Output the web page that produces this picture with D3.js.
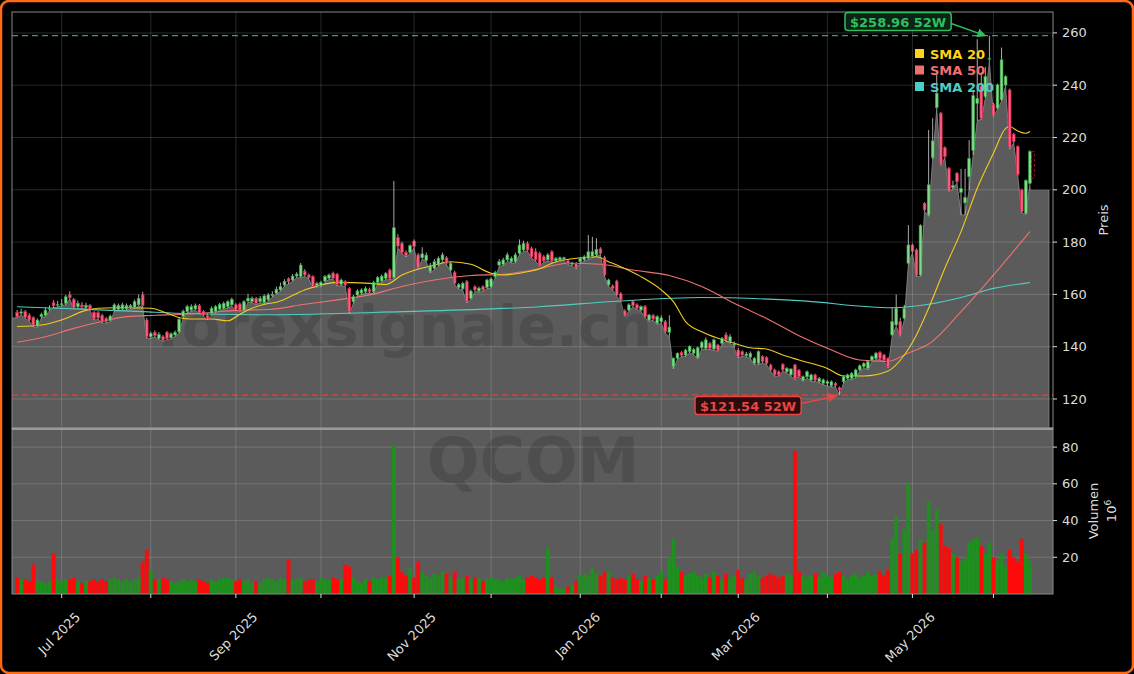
<!DOCTYPE html>
<html><head><meta charset="utf-8">
<script src="https://cdn.jsdelivr.net/npm/d3@7"></script>
<style>html,body{margin:0;padding:0;background:#000;}svg{display:block;font-family:"DejaVu Sans",sans-serif;}</style>
</head><body><svg id="c" width="1134" height="674"></svg>
<script>
// ---------------- DATA ----------------
const ticker = "QCOM";
const watermarkText = "forexsignale.ch";
const startDate = "2025-06-13";
const holidays = ["2025-06-19","2025-07-04","2025-09-01","2025-11-27","2025-12-25","2026-01-01","2026-01-19","2026-02-16","2026-04-03","2026-05-25"];
const monthLabels = ["Jul 2025","","Sep 2025","","Nov 2025","","Jan 2026","","Mar 2026","","May 2026",""];
const priceTicks = [120,140,160,180,200,220,240,260];
const volumeTicks = [20,40,60,80];
const high52 = 258.96, low52 = 121.54;
const ghostCandle = {open:214.6, close:204.4};
const areaTailValue = 200;

const open = [153.1,152.8,153.4,152.1,151.1,147.9,151.5,152.0,154.3,156.8,156.0,156.2,156.6,159.8,158.1,155.3,155.9,155.0,155.7,153.1,
153.0,152.0,150.8,150.1,154.0,154.3,154.4,154.5,155.0,155.0,156.0,159.8,150.2,143.8,145.4,143.2,143.8,145.5,143.4,144.5,
145.7,151.5,153.4,154.0,154.4,155.7,153.4,152.0,152.8,153.4,154.4,154.7,155.3,156.0,156.0,156.3,154.0,157.5,157.2,158.5,
157.2,156.8,157.9,159.5,160.4,161.7,163.6,166.0,165.5,167.0,166.8,168.9,167.4,166.8,163.3,163.4,165.1,166.2,168.1,167.7,
163.8,164.9,162.3,157.2,159.8,160.5,161.0,162.0,161.0,164.6,165.1,166.1,169.3,166.4,181.7,179.5,176.1,176.1,180.4,175.1,
174.0,173.0,168.7,170.0,171.2,173.2,174.0,169.3,168.4,162.6,162.1,164.9,158.5,162.9,161.3,162.9,162.6,163.0,166.8,171.2,
171.5,173.2,172.5,172.5,175.7,177.0,179.5,177.6,176.3,175.7,174.4,173.2,176.3,172.8,173.2,173.5,172.8,171.5,171.9,172.5,
173.2,173.8,174.5,175.2,177.4,174.2,163.6,163.2,165.1,160.2,153.7,154.0,157.2,156.0,154.0,155.3,150.2,151.9,149.0,149.6,
149.6,145.5,132.5,135.6,137.8,136.8,138.1,137.5,135.8,139.6,139.4,141.3,139.1,140.6,141.3,144.5,141.9,140.5,138.7,138.1,
136.5,136.0,133.6,133.6,136.2,135.8,133.0,131.1,130.4,133.2,130.4,129.2,133.0,131.0,127.2,128.5,127.2,129.2,126.6,126.0,
126.0,125.1,126.0,124.3,126.6,127.9,127.9,128.5,131.1,132.4,131.7,134.9,135.5,137.8,136.8,135.5,144.5,148.3,149.6,150.9,
171.9,178.9,177.0,167.4,194.8,190.4,212.3,231.4,229.3,216.1,208.2,200.8,206.3,199.0,195.0,205.0,215.0,233.0,239.5,235.6,
250.0,232.7,231.2,234.4,240.1,238.2,221.2,216.5,199.9,191.0,202.5];
const high = [154.0,154.5,154.0,152.8,151.6,150.8,153.0,155.0,155.8,157.8,157.5,158.2,159.8,161.2,158.6,157.6,157.0,156.8,156.3,153.6,
153.6,152.6,151.3,152.3,156.6,156.5,156.8,156.5,156.3,158.0,160.0,161.0,151.0,145.8,146.2,145.6,144.4,146.0,145.5,146.2,
151.0,154.2,156.0,156.2,156.5,156.3,154.0,152.6,155.4,155.9,156.8,157.2,157.8,158.8,156.6,156.9,157.8,160.2,159.2,159.0,
159.4,160.0,160.5,161.2,163.0,164.5,165.8,166.5,167.8,168.5,172.0,169.6,168.0,167.3,164.8,165.2,167.4,168.0,168.7,168.2,
166.1,165.4,162.8,159.8,162.0,162.3,163.0,162.6,165.2,167.0,167.6,168.6,169.9,203.4,183.0,180.2,176.8,179.2,181.0,175.8,
178.0,176.0,172.0,173.5,174.5,176.0,174.6,172.5,169.0,164.4,164.8,165.5,161.9,163.5,163.0,163.5,166.0,166.5,169.0,173.5,
174.0,176.0,174.5,176.0,181.0,180.5,180.2,178.2,177.6,176.3,175.0,175.8,176.9,174.3,174.5,174.4,173.3,172.5,172.4,174.3,
175.0,182.7,182.0,181.5,178.0,174.8,166.0,163.8,165.6,160.8,154.3,156.6,157.8,156.6,155.8,155.9,152.6,152.5,152.0,152.0,
150.2,152.0,135.8,137.8,138.3,139.2,140.5,139.5,140.1,142.2,143.5,141.8,143.1,141.1,143.7,145.5,144.8,142.0,139.5,138.6,
138.0,138.2,136.0,138.6,136.7,136.3,133.5,131.6,130.9,133.7,132.2,131.6,133.5,131.5,129.0,130.9,129.7,129.7,128.4,127.8,
127.2,127.1,126.5,124.8,129.0,129.7,130.3,131.6,133.2,134.1,134.8,136.7,138.0,138.3,137.3,136.0,155.0,159.9,151.0,156.0,
186.5,179.4,177.5,186.8,195.3,222.9,227.4,244.6,229.8,216.6,208.7,203.5,206.8,208.0,208.0,219.0,238.2,257.6,245.0,247.0,
258.96,233.2,240.6,254.4,243.8,238.7,221.7,217.0,200.4,204.0,215.1];
const low = [151.0,152.2,150.8,149.8,147.6,147.4,151.0,151.6,153.8,154.8,155.2,155.6,156.0,158.2,154.4,154.8,154.6,154.5,153.9,150.2,
150.4,149.0,149.0,149.6,153.5,153.8,154.0,154.0,154.5,154.6,155.5,155.2,143.2,143.2,143.7,142.8,142.0,142.7,142.9,144.0,
145.2,151.0,153.0,153.5,154.0,152.6,151.6,150.3,152.3,153.0,154.0,154.2,154.8,155.5,153.9,153.5,153.5,157.0,156.8,156.1,
156.8,156.3,157.4,159.0,160.0,161.2,163.1,164.0,165.0,166.4,166.3,166.9,165.9,162.5,162.8,162.9,164.6,165.7,165.7,163.3,
163.3,163.1,152.8,156.5,159.3,160.0,160.5,160.5,160.5,164.1,164.6,165.6,165.6,166.0,178.0,175.6,174.3,175.6,177.8,169.7,
173.5,172.5,168.2,169.5,170.7,172.7,171.4,168.8,163.7,162.1,161.6,156.7,158.0,161.2,160.8,161.2,162.1,162.5,166.3,170.7,
171.0,172.7,172.0,172.0,175.2,176.5,176.5,173.9,172.7,170.7,172.3,172.7,172.3,172.3,172.8,173.0,171.4,170.9,169.7,172.0,
172.7,173.3,174.0,174.7,175.2,166.9,163.1,161.8,159.3,157.4,151.6,153.5,155.2,154.2,153.5,151.0,149.7,150.1,148.5,149.0,
145.2,143.8,131.5,135.1,136.1,136.3,137.6,137.0,135.3,139.1,138.9,138.9,138.6,138.2,140.8,142.1,141.4,139.5,135.7,136.3,
136.0,135.5,133.1,133.1,133.8,133.1,130.6,128.7,128.7,130.6,129.9,128.7,127.4,128.7,126.7,128.0,126.7,126.7,126.1,125.5,
125.0,124.6,124.6,121.54,126.1,127.4,127.4,128.0,130.6,131.9,131.2,134.4,135.0,135.0,134.4,131.9,144.0,147.8,144.0,150.4,
171.4,175.9,166.9,166.9,191.8,189.9,211.8,230.9,209.3,212.2,199.4,200.3,202.6,190.4,190.4,200.0,213.3,226.5,226.9,235.1,
249.0,228.1,230.7,233.9,239.6,215.6,217.9,205.4,191.2,190.5,202.0];
const close = [151.4,153.3,151.1,150.2,148.3,150.2,152.4,154.0,154.7,155.6,156.2,156.4,159.1,158.7,154.9,156.6,155.2,155.8,154.4,150.8,
151.0,149.6,149.6,151.7,156.0,155.7,156.0,155.7,155.7,157.2,158.5,155.7,143.8,145.1,144.2,144.7,142.6,143.2,144.9,145.5,
150.5,153.6,155.3,155.3,155.7,153.1,152.1,150.8,154.7,155.3,156.2,156.6,157.2,158.1,154.4,154.0,157.2,158.5,158.5,156.6,
158.5,159.4,159.8,160.0,162.0,163.0,165.0,164.8,167.0,167.8,171.2,167.4,166.4,163.0,164.2,164.6,166.8,167.4,166.2,163.8,
165.5,163.6,153.4,159.1,161.3,161.7,162.3,161.0,164.6,166.5,167.0,168.0,166.1,185.5,178.5,176.1,174.8,178.6,178.3,170.2,
175.5,175.0,171.2,172.5,173.8,175.1,171.9,171.9,164.2,163.8,164.2,157.2,161.3,161.7,162.4,161.7,165.5,165.9,168.4,172.5,
173.2,175.1,173.8,175.1,178.9,179.5,177.0,174.4,173.2,171.2,172.8,175.1,172.8,173.8,174.0,174.0,171.9,172.0,170.2,173.8,
174.4,176.3,176.3,177.2,175.7,167.4,165.5,162.3,159.8,157.9,152.1,156.0,155.7,154.7,155.3,151.5,152.1,150.6,151.5,151.0,
145.7,147.5,135.6,137.5,136.6,138.7,140.0,139.0,139.6,141.7,142.6,139.4,142.6,138.7,143.2,142.6,143.8,141.0,136.2,136.8,
137.2,137.5,135.6,138.1,134.3,133.6,131.1,129.2,129.2,131.1,131.7,131.5,127.9,128.5,128.5,130.4,129.2,127.2,127.9,127.3,
126.6,126.6,125.1,123.4,128.5,129.2,129.8,131.1,132.7,133.6,134.3,136.2,137.5,135.5,134.9,132.4,149.6,154.7,144.5,154.7,
178.9,176.4,167.4,186.3,192.3,201.9,218.7,236.9,209.8,212.7,199.9,201.6,203.1,200.5,197.0,212.0,236.0,235.0,227.4,243.3,
250.3,228.6,240.1,249.7,243.3,216.1,218.4,205.9,191.7,203.5,214.6];
const volume = [9,8,8,7,16,7,7,6,7,22,8,7,8,8,9,7,6,7,7,8,
7,8,7,8,9,8,7,8,7,8,9,18,24,13,8,8,9,8,7,6,
7,8,7,8,7,8,7,6,8,7,8,9,9,8,7,8,7,8,6,7,
6,8,9,8,7,9,8,19,8,8,9,7,8,8,7,9,8,8,9,8,
8,16,15,9,7,6,8,7,9,8,9,9,10,81,20,12,10,14,9,18,
12,10,9,11,10,12,11,9,12,8,9,10,8,9,9,7,8,9,8,8,
7,9,8,9,10,8,9,10,9,8,9,25,9,4,3,3,4,5,7,10,
11,10,14,11,10,12,12,9,8,9,8,10,11,8,7,10,9,8,10,12,
8,20,30,15,12,10,11,12,10,9,11,9,12,10,8,11,9,10,13,9,
8,11,12,10,9,10,11,10,9,10,11,10,78,12,10,9,10,11,9,12,
10,9,11,12,10,8,10,11,9,10,12,10,11,12,10,13,30,42,22,35,
60,22,24,30,28,50,35,46,38,26,25,22,20,18,20,28,30,31,26,22,
28,20,18,22,15,24,20,18,30,22,18];
// SMA values: [trading-day index, value]
const sma20 = [[0,147.7],[6,148.3],[12,150.8],[16,153.4],[20,154.7],[24,154.9],[28,154.9],[33,154.7],[37,152.8],[41,150.8],[44,150.6],[48,150.6],[52,149.9],[55,152.4],[58,154.7],[62,156.5],[64,157.0],[71,161.7],[79,164.6],[87,164.2],[91,163.8],[95,167.4],[103,171.2],[107,172.5],[112,171.5],[117,168.1],[120,167.4],[124,168.1],[129,169.8],[133,172.5],[138,173.8],[143,174.4],[146,172.5],[149,170.6],[154,166.8],[159,161.7],[162,157.2],[165,149.6],[169,145.7],[173,143.2],[177,141.3],[181,139.6],[185,139.1],[189,136.8],[193,134.9],[200,131.7],[204,128.8],[209,128.8],[215,130.7],[219,136.8],[222,144.5],[225,154.7],[229,170.0],[233,184.0],[237,200.6],[241,214.0],[244,223.5],[245,224.2],[247,222.5],[249,221.6],[250,222.3]];
const sma50 = [[0,141.7],[7,143.8],[14,147.0],[21,149.6],[27,151.5],[34,152.0],[41,152.4],[48,153.1],[54,153.9],[62,154.2],[71,156.2],[79,157.9],[87,159.8],[95,163.0],[103,165.5],[112,167.2],[120,167.7],[128,169.5],[136,171.9],[144,171.5],[152,169.3],[161,167.2],[169,163.0],[177,156.6],[185,150.8],[193,144.2],[200,139.4],[208,134.9],[215,134.4],[220,137.6],[225,141.0],[233,153.4],[241,167.4],[250,184.0]];
const sma200 = [[0,155.3],[15,154.4],[31,153.4],[39,152.8],[62,152.2],[95,153.4],[129,155.3],[149,157.5],[169,158.8],[193,157.6],[216,154.9],[225,156.2],[233,158.8],[241,162.3],[250,164.5]];

// ---------------- DATES ----------------
const dates = [];
{
  let d = new Date(startDate + "T12:00:00Z");
  while (dates.length < close.length) {
    const iso = d.toISOString().slice(0,10);
    const wd = d.getUTCDay();
    if (wd !== 0 && wd !== 6 && !holidays.includes(iso)) dates.push(new Date(d));
    d = new Date(d.getTime() + 86400000);
  }
}
const monthStarts = [];
dates.forEach((d,i) => { if (i>0 && d.getUTCMonth() !== dates[i-1].getUTCMonth()) monthStarts.push(i); });

// ---------------- LAYOUT ----------------
const svg = d3.select("#c");
const L = 12, R = 1053, PT = 12, PB = 428, VB = 594;
const x = d3.scaleLinear().domain([-1.26, 255.7]).range([L, R]);
const y = d3.scaleLinear().domain([108.9, 268.0]).range([PB, PT]);
const yv = d3.scaleLinear().domain([0, 90.4]).range([VB, PB]);

svg.append("rect").attr("x",0).attr("y",0).attr("width",1134).attr("height",674).attr("fill","#000");
svg.append("defs").html(`
 <clipPath id="cp"><rect x="${L}" y="${PT}" width="${R-L}" height="${PB-PT}"/></clipPath>
 <clipPath id="cv"><rect x="${L}" y="${PB}" width="${R-L}" height="${VB-PB}"/></clipPath>
 <marker id="ag" viewBox="0 0 10 10" refX="9" refY="5" markerWidth="6" markerHeight="6" orient="auto"><path d="M0,0L10,5L0,10z" fill="#2fbf60"/></marker>
 <marker id="ar" viewBox="0 0 10 10" refX="9" refY="5" markerWidth="6" markerHeight="6" orient="auto"><path d="M0,0L10,5L0,10z" fill="#e84545"/></marker>`);

// ---------- price panel ----------
const gp = svg.append("g").attr("clip-path","url(#cp)");
gp.append("rect").attr("x",L).attr("y",PT).attr("width",R-L).attr("height",PB-PT).attr("fill","#000");
const areaPts = [[x.domain()[0], low[0]]].concat(low.map((v,i)=>[i,v])).concat([[close.length-1+0.3, areaTailValue],[254.7, areaTailValue]]);
const area = d3.area().x(d=>x(d[0])).y0(PB).y1(d=>y(d[1]));
gp.append("path").datum(areaPts).attr("d", area).attr("fill","#5b5b5b");
gp.append("path").datum(areaPts.slice(0,-2)).attr("d", d3.line().x(d=>x(d[0])).y(d=>y(d[1]))).attr("fill","none").attr("stroke","#8c8c8c").attr("stroke-width",0.8);
gp.append("line").attr("x1",x(254.7)).attr("x2",x(254.7)).attr("y1",y(areaTailValue)).attr("y2",PB).attr("stroke","#8c8c8c").attr("stroke-width",0.8);

// grid
const gridG = svg.append("g").attr("stroke","#ffffff").attr("stroke-opacity",0.2).attr("stroke-width",0.8);
priceTicks.forEach(t => gridG.append("line").attr("x1",L).attr("x2",R).attr("y1",y(t)).attr("y2",y(t)));
monthStarts.forEach(i => gridG.append("line").attr("x1",x(i)).attr("x2",x(i)).attr("y1",PT).attr("y2",PB));

// watermark
gp.append("text").attr("x",157).attr("y",346).attr("text-anchor","start").attr("font-size",57).attr("font-weight","bold")
  .attr("fill","#000").attr("fill-opacity",0.14).text(watermarkText);

// SMA lines
const sl = d3.line().x(d=>x(d[0])).y(d=>y(d[1])).curve(d3.curveMonotoneX);
[[sma200,"#4ecdc4"],[sma50,"#f07070"],[sma20,"#f2cc1f"]].forEach(([s,c]) =>
  gp.append("path").datum(s).attr("d", sl).attr("fill","none").attr("stroke",c).attr("stroke-width",1.1));

// candles
const cg = gp.append("g");
close.forEach((c,i) => {
  const up = c >= open[i];
  cg.append("line").attr("x1",x(i)).attr("x2",x(i)).attr("y1",y(high[i])).attr("y2",y(low[i])).attr("stroke","#bdbdbd").attr("stroke-width",0.9);
  const top = y(Math.max(c,open[i])), bot = y(Math.min(c,open[i]));
  cg.append("rect").attr("x",x(i)-1.4).attr("width",2.8).attr("y",top).attr("height",Math.max(0.8,bot-top))
    .attr("fill", up ? "#86d886" : "#f0607f").attr("stroke", up ? "#2e9e46" : "#d81b45").attr("stroke-width",0.6);
});
// ghost candle
const gi = close.length;
gp.append("rect").attr("x",x(gi-0.2)-1.4).attr("width",2.8).attr("y",y(ghostCandle.open)).attr("height",y(ghostCandle.close)-y(ghostCandle.open))
  .attr("fill","none").attr("stroke","#8b1020").attr("stroke-width",1).attr("stroke-dasharray","3,2");

// 52w lines
gp.append("line").attr("x1",L).attr("x2",R).attr("y1",y(high52)).attr("y2",y(high52)).attr("stroke","#2fa855").attr("stroke-width",1.4).attr("stroke-dasharray","6,4");
gp.append("line").attr("x1",L).attr("x2",R).attr("y1",y(low52)).attr("y2",y(low52)).attr("stroke","#d94040").attr("stroke-width",1.4).attr("stroke-dasharray","6,4");

// ---------- volume panel ----------
const gv = svg.append("g").attr("clip-path","url(#cv)");
gv.append("rect").attr("x",L).attr("y",PB).attr("width",R-L).attr("height",VB-PB).attr("fill","#5b5b5b");
const gridV = gv.append("g").attr("stroke","#ffffff").attr("stroke-opacity",0.2).attr("stroke-width",0.8);
volumeTicks.forEach(t => gridV.append("line").attr("x1",L).attr("x2",R).attr("y1",yv(t)).attr("y2",yv(t)));
monthStarts.forEach(i => gridV.append("line").attr("x1",x(i)).attr("x2",x(i)).attr("y1",PB).attr("y2",VB));
gv.append("text").attr("x",533).attr("y",482).attr("text-anchor","middle").attr("font-size",62).attr("font-weight","bold")
  .attr("fill","#000").attr("fill-opacity",0.14).text(ticker);
volume.forEach((v,i) => {
  gv.append("rect").attr("x",x(i)-1.9).attr("width",3.8).attr("y",yv(v)).attr("height",VB-yv(v))
    .attr("fill", close[i] >= open[i] ? "#1f8f1f" : "#ff0a0a");
});

// spines
const sp = svg.append("g").attr("fill","none").attr("stroke","#8a8a8a").attr("stroke-width",1);
sp.append("rect").attr("x",L).attr("y",PT).attr("width",R-L).attr("height",PB-PT);
sp.append("rect").attr("x",L).attr("y",PB).attr("width",R-L).attr("height",VB-PB);
svg.append("line").attr("x1",L).attr("x2",R).attr("y1",PB+1).attr("y2",PB+1).attr("stroke","#9a9a9a").attr("stroke-width",2);

// axes
const tc = "#dcdcdc";
const ya = svg.append("g");
priceTicks.forEach(t => {
  ya.append("line").attr("x1",R).attr("x2",R+4).attr("y1",y(t)).attr("y2",y(t)).attr("stroke",tc);
  ya.append("text").attr("x",R+9).attr("y",y(t)).attr("dy","0.35em").attr("fill",tc).attr("font-size",13).text(t);
});
volumeTicks.forEach(t => {
  ya.append("line").attr("x1",R).attr("x2",R+4).attr("y1",yv(t)).attr("y2",yv(t)).attr("stroke",tc);
  ya.append("text").attr("x",R+9).attr("y",yv(t)).attr("dy","0.35em").attr("fill",tc).attr("font-size",13).text(t);
});
ya.append("text").attr("transform",`translate(1108,${(PT+PB)/2}) rotate(-90)`).attr("text-anchor","middle").attr("fill",tc).attr("font-size",13).text("Preis");
ya.append("text").attr("transform",`translate(1098,${(PB+VB)/2}) rotate(-90)`).attr("text-anchor","middle").attr("fill",tc).attr("font-size",13).text("Volumen");
const ex = ya.append("text").attr("transform",`translate(1116,${(PB+VB)/2}) rotate(-90)`).attr("text-anchor","middle").attr("fill",tc).attr("font-size",13);
ex.append("tspan").text("10"); ex.append("tspan").attr("dy",-5).attr("font-size",9).text("6");

monthStarts.forEach((i,k) => {
  svg.append("line").attr("x1",x(i)).attr("x2",x(i)).attr("y1",VB).attr("y2",VB+4).attr("stroke",tc);
  const lab = monthLabels[k];
  if (lab) {
    const t = svg.append("text").attr("text-anchor","middle").attr("dominant-baseline","central").attr("fill",tc).attr("font-size",13).text(lab);
    const len = t.node().getComputedTextLength();
    t.attr("transform",`translate(${x(i)-2.5},${610 + 0.354*(len+13)}) rotate(-45)`);
  }
});

// annotations
function note(txt, bx, by, col, fillc, ax, ay) {
  const g = svg.append("g");
  const t = g.append("text").attr("x",bx+5).attr("y",by+1).attr("dy","0.35em").attr("font-size",13).attr("font-weight","bold").attr("fill",col).text(txt);
  const w = t.node().getComputedTextLength();
  g.insert("rect","text").attr("x",bx).attr("y",by-9).attr("width",w+10).attr("height",18).attr("rx",3)
    .attr("fill",fillc).attr("stroke",col).attr("stroke-width",1.5);
  g.append("line").attr("x1",bx+w+10).attr("y1",by+(ay>by?2:-2)).attr("x2",ax).attr("y2",ay).attr("stroke",col).attr("stroke-width",1.5)
    .attr("marker-end", col==="#2fbf60"?"url(#ag)":"url(#ar)");
}
note("$258.96 52W", 845, 21.5, "#2fbf60", "#0b2415", x(240)-4, y(high52));
note("$121.54 52W", 695, 405.5, "#e84545", "#2a0c0c", x(203)-3, y(low52)+1);

// legend
[["SMA 20","#ffd21a"],["SMA 50","#f07070"],["SMA 200","#4ecdc4"]].forEach(([n,c],k) => {
  svg.append("rect").attr("x",915).attr("y",49+k*16.5).attr("width",9).attr("height",9).attr("fill",c);
  svg.append("text").attr("x",930).attr("y",54+k*16.5).attr("dy","0.35em").attr("font-size",13).attr("font-weight","bold").attr("fill",c).text(n);
});

// figure border
svg.append("rect").attr("x",1).attr("y",1).attr("width",1132).attr("height",672).attr("rx",8)
  .attr("fill","none").attr("stroke","#ff6a13").attr("stroke-width",2.5);
</script></body></html>
